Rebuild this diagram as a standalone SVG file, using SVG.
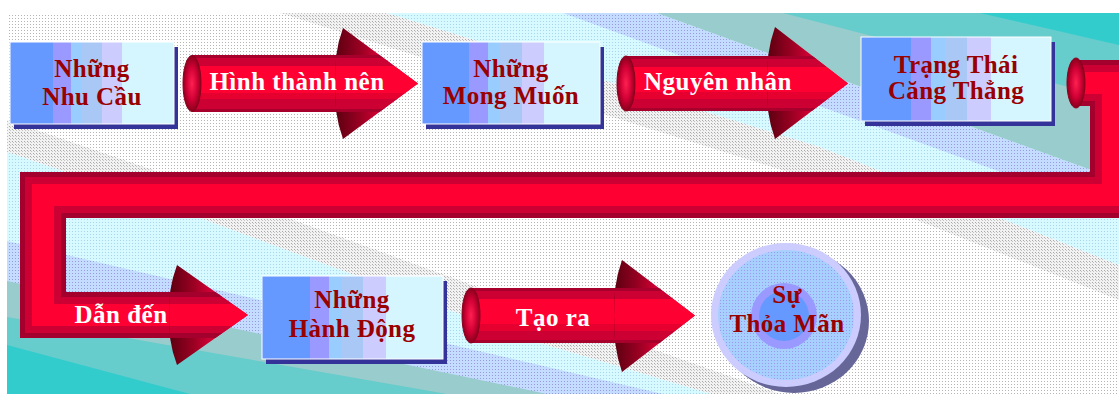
<svg xmlns="http://www.w3.org/2000/svg" width="1119" height="394" viewBox="0 0 1119 394">
<defs>
<style>
.nt{font-family:"Liberation Serif","Times New Roman",serif;font-weight:bold;font-size:25px;letter-spacing:0.4px;fill:#990000;text-anchor:middle}
.at{font-family:"Liberation Serif","Times New Roman",serif;font-weight:bold;font-size:25px;letter-spacing:0.5px;fill:#ffffff;text-anchor:middle}
.box{fill:url(#boxGrad);stroke:#ffffff;stroke-width:1}
.shadow{fill:#333399}
.body{fill:url(#bodyGrad)}
.head{fill:url(#headGrad)}
.cap{fill:url(#capGrad);stroke:#8a001c;stroke-width:1}
.pipe{fill:none;stroke-linejoin:miter;stroke-linecap:butt}
</style>
<pattern id="dots" width="3" height="3" patternUnits="userSpaceOnUse"><rect width="3" height="3" fill="#ffffff"/><rect width="1" height="1" fill="#b4b4b4"/></pattern>
<pattern id="dense" width="3" height="3" patternUnits="userSpaceOnUse"><rect width="3" height="3" fill="#f2f2f2"/><rect width="1" height="1" fill="#a8a8a8"/><rect x="1" y="1" width="1" height="1" fill="#c4c4c4"/></pattern>
<pattern id="cyan" width="3" height="3" patternUnits="userSpaceOnUse"><rect width="3" height="3" fill="#d6faff"/><rect width="1" height="1" fill="#a8d4ec"/></pattern>
<pattern id="lblue" width="3" height="3" patternUnits="userSpaceOnUse"><rect width="3" height="3" fill="#c4dcff"/><rect width="1" height="1" fill="#9999dd"/></pattern>
<pattern id="cdots" width="3" height="3" patternUnits="userSpaceOnUse"><rect width="3" height="3" fill="#a8d0ff"/><rect width="1" height="1" fill="#9999ee"/></pattern>
<linearGradient id="boxGrad" x1="0" y1="0" x2="1" y2="0">
<stop offset="0" stop-color="#6699ff"/><stop offset=".265" stop-color="#6699ff"/>
<stop offset=".265" stop-color="#9999ff"/><stop offset=".37" stop-color="#9999ff"/>
<stop offset=".37" stop-color="#99ccff"/><stop offset=".44" stop-color="#99ccff"/>
<stop offset=".44" stop-color="#aac8f6"/><stop offset=".56" stop-color="#aac8f6"/>
<stop offset=".56" stop-color="#ccccff"/><stop offset=".685" stop-color="#ccccff"/>
<stop offset=".685" stop-color="#d6f6ff"/><stop offset="1" stop-color="#d6f6ff"/>
</linearGradient>
<linearGradient id="bodyGrad" x1="0" y1="0" x2="0" y2="1">
<stop offset="0" stop-color="#a8002c"/><stop offset=".06" stop-color="#a8002c"/>
<stop offset=".06" stop-color="#cc0033"/><stop offset=".2" stop-color="#cc0033"/>
<stop offset=".2" stop-color="#ff0033"/><stop offset=".66" stop-color="#ff0033"/>
<stop offset=".66" stop-color="#e6002f"/><stop offset=".78" stop-color="#e6002f"/>
<stop offset=".78" stop-color="#cc0033"/><stop offset=".95" stop-color="#cc0033"/>
<stop offset=".95" stop-color="#a8002c"/><stop offset="1" stop-color="#a8002c"/>
</linearGradient>
<linearGradient id="pipeGrad" x1="0" y1="0" x2="0" y2="1">
<stop offset="0" stop-color="#a3002e"/><stop offset=".109" stop-color="#a3002e"/>
<stop offset=".109" stop-color="#cc0033"/><stop offset=".26" stop-color="#cc0033"/>
<stop offset=".26" stop-color="#ff0033"/><stop offset=".74" stop-color="#ff0033"/>
<stop offset=".74" stop-color="#cc0033"/><stop offset=".891" stop-color="#cc0033"/>
<stop offset=".891" stop-color="#a3002e"/><stop offset="1" stop-color="#a3002e"/>
</linearGradient>
<linearGradient id="headGrad" x1="0" y1="0" x2="1" y2="0">
<stop offset="0" stop-color="#5c0010"/><stop offset=".3" stop-color="#990022"/>
<stop offset=".5" stop-color="#cc0033"/><stop offset="1" stop-color="#e0002f"/>
</linearGradient>
<radialGradient id="capGrad" cx=".5" cy=".5" r=".5">
<stop offset="0" stop-color="#ff2050"/><stop offset=".6" stop-color="#d00035"/><stop offset="1" stop-color="#8a001c"/>
</radialGradient>
<clipPath id="bgClip"><rect x="7" y="13" width="1112" height="381"/></clipPath>
<clipPath id="h1"><path d="M343,28 Q333,55 336,83.5 Q333,112 343,139 L418,83.5 Z"/></clipPath>
<clipPath id="h2"><path d="M775,27 Q765,55 768,83.5 Q765,112 775,139 L848,83.5 Z"/></clipPath>
<clipPath id="h3"><path d="M177,265 Q167,292 170,315 Q167,338 177,365 L248,315 Z"/></clipPath>
<clipPath id="h4"><path d="M622,260 Q612,288 615,315.5 Q612,343 622,372 L695,315.5 Z"/></clipPath>
</defs>

<g id="background" clip-path="url(#bgClip)">
<rect x="7" y="13" width="1112" height="381" fill="url(#dots)"/>
<polygon points="280,13 387,13 820,147 1119,265 1119,300 820,182" fill="url(#dense)"/>
<polygon points="387,13 820,147 1119,265 1119,13" fill="url(#cyan)"/>
<polygon points="563,13 657,13 1119,180 1119,215" fill="url(#lblue)"/>
<polygon points="657,13 1119,13 1119,180" fill="#99cccc"/>
<polygon points="783,13 1119,13 1119,100" fill="#66cccc"/>
<polygon points="980,13 1119,13 1119,45" fill="#33cccc"/>
<polygon points="7,120 200,186 530,306 780,394 711,394 530,340 200,218 7,152" fill="url(#dense)"/>
<polygon points="7,152 200,218 530,340 711,394 7,394" fill="url(#cyan)"/>
<polygon points="7,241 663,394 7,394" fill="url(#lblue)"/>
<polygon points="7,281 547,394 7,394" fill="#99cccc"/>
<polygon points="7,317 447,394 7,394" fill="#66cccc"/>
<polygon points="7,345 190,394 7,394" fill="#33cccc"/>
</g>

<g id="connectors">
<g id="arrow-hinh-thanh-nen">
<rect class="body" x="192" y="55" width="150" height="57"/>
<path class="head" d="M343,28 Q333,55 336,83.5 Q333,112 343,139 L418,83.5 Z"/>
<rect class="body" x="330" y="55" width="90" height="57" clip-path="url(#h1)"/>
<ellipse class="cap" cx="192" cy="83.5" rx="9" ry="28"/>
<text class="at" x="297" y="90">Hình thành nên</text>
</g>
<g id="arrow-nguyen-nhan">
<rect class="body" x="626" y="56" width="149" height="55"/>
<path class="head" d="M775,27 Q765,55 768,83.5 Q765,112 775,139 L848,83.5 Z"/>
<rect class="body" x="762" y="56" width="88" height="55" clip-path="url(#h2)"/>
<ellipse class="cap" cx="626" cy="83.5" rx="9" ry="27.5"/>
<text class="at" x="718" y="90">Nguyên nhân</text>
</g>
<g id="arrow-dan-den">
<path class="pipe" d="M1076,83 H1113 V195 H43 V315 H178" stroke="#a3002e" stroke-width="46"/>
<path class="pipe" d="M1076,83 H1113 V195 H43 V315 H178" stroke="#cc0033" stroke-width="36"/>
<path class="pipe" d="M1076,83 H1113 V195 H43 V315 H178" stroke="#ff0033" stroke-width="22"/>
<ellipse class="cap" cx="1076" cy="83" rx="9" ry="25"/>
<path class="head" d="M177,265 Q167,292 170,315 Q167,338 177,365 L248,315 Z"/>
<rect x="164" y="292" width="86" height="46" fill="url(#pipeGrad)" clip-path="url(#h3)"/>
<text class="at" x="121" y="323">Dẫn đến</text>
</g>
<g id="arrow-tao-ra">
<rect class="body" x="471" y="288" width="151" height="55"/>
<path class="head" d="M622,260 Q612,288 615,315.5 Q612,343 622,372 L695,315.5 Z"/>
<rect class="body" x="609" y="288" width="88" height="55" clip-path="url(#h4)"/>
<ellipse class="cap" cx="471" cy="315.5" rx="9" ry="27.5"/>
<text class="at" x="553" y="326">Tạo ra</text>
</g>
</g>

<g id="node-nhu-cau">
<rect class="shadow" x="14" y="47" width="164" height="82"/>
<rect class="box" x="10" y="42" width="164" height="82"/>
<text class="nt" x="92" y="77">Những</text>
<text class="nt" x="92" y="105">Nhu Cầu</text>
</g>
<g id="node-mong-muon">
<rect class="shadow" x="426" y="47" width="178" height="82"/>
<rect class="box" x="422" y="42" width="178" height="82"/>
<text class="nt" x="511" y="77">Những</text>
<text class="nt" x="511" y="104">Mong Muốn</text>
</g>
<g id="node-trang-thai">
<rect class="shadow" x="865" y="42" width="190" height="84"/>
<rect class="box" x="861" y="37" width="190" height="84"/>
<text class="nt" x="956" y="73">Trạng Thái</text>
<text class="nt" x="956" y="99">Căng Thẳng</text>
</g>
<g id="node-hanh-dong">
<rect class="shadow" x="266" y="281" width="181" height="83"/>
<rect class="box" x="262" y="276" width="181" height="83"/>
<text class="nt" x="352" y="308">Những</text>
<text class="nt" x="352" y="337">Hành Động</text>
</g>
<g id="node-thoa-man">
<ellipse cx="794" cy="321" rx="75" ry="72" fill="#666699"/>
<ellipse cx="786" cy="315" rx="75" ry="72" fill="#ccccff"/>
<ellipse cx="786" cy="315" rx="68" ry="65" fill="url(#cdots)"/>
<circle cx="784" cy="316" r="33" fill="#9999ff"/>
<circle cx="784" cy="316" r="25" fill="#6699ff"/>
<text class="nt" x="787" y="303">Sự</text>
<text class="nt" x="787" y="332">Thỏa Mãn</text>
</g>
</svg>
